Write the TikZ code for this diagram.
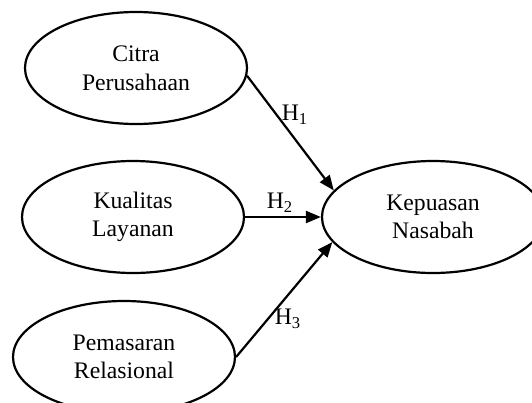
\documentclass[tikz,border=0pt]{standalone}
\usepackage{fontspec}
\setmainfont{Liberation Serif}
\usetikzlibrary{shapes.geometric,arrows.meta}
\begin{document}
\begin{tikzpicture}[x=0.5pt,y=-0.5pt,
  oval/.style={draw, line width=1.1pt, ellipse, inner sep=0pt,
    minimum width=111pt, minimum height=56pt, align=center,
    font=\fontsize{11.85}{14.3}\selectfont},
  arr/.style={line width=1.1pt, -{Triangle[length=7.5pt,width=6pt]}},
  hlab/.style={inner sep=0pt, font=\fontsize{11.85}{14.3}\selectfont}]
\useasboundingbox (0,0) rectangle (532,403);
\clip (0,0) rectangle (532,403);
\node[oval] (c1) at (136,68) {Citra\\Perusahaan};
\node[oval] (kl) at (133,217) {Kualitas\\Layanan};
\node[oval] (pr) at (124,357) {Pemasaran\\Relasional};
\node[oval] (kn) at (433,217) {Kepuasan\\Nasabah};
\draw[arr] (c1.-4) -- (kn.165);
\draw[arr] (kl.east) -- (kn.west);
\draw[arr] (pr.east) -- (kn.194);
\node[hlab] (h1) at (295,115) {H\textsubscript{1}};
\node[hlab] (h2) at (280,203) {H\textsubscript{2}};
\node[hlab] (h3) at (288,319) {H\textsubscript{3}};
\end{tikzpicture}
\end{document}
